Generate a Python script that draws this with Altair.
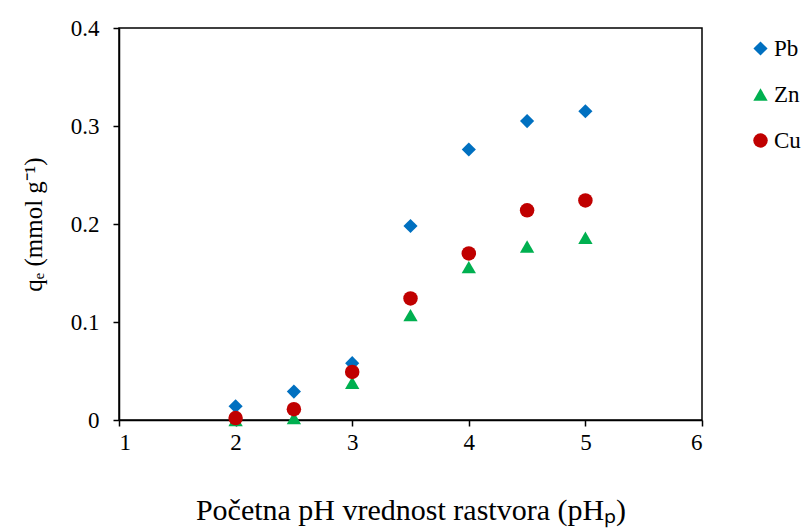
import altair as alt
import pandas as pd

ph = [2, 2.5, 3, 3.5, 4, 4.5, 5]
pb = [0.014, 0.029, 0.058, 0.198, 0.276, 0.305, 0.315]
zn = [0.0, 0.002, 0.038, 0.107, 0.156, 0.177, 0.186]
cu = [0.002, 0.011, 0.049, 0.124, 0.170, 0.214, 0.224]
series = ["Pb", "Zn", "Cu"]
colors = ["#0070C0", "#00B050", "#C00000"]
shapes = ["diamond", "triangle-up", "circle"]
sizes = [200, 210, 190]

rows = []
for name, vals in zip(series, [pb, zn, cu]):
    for x, y in zip(ph, vals):
        rows.append({"pH": x, "qe": y, "Metal": name})
df = pd.DataFrame(rows)

FONT = "Liberation Serif"

chart = alt.Chart(df).mark_point(filled=True, opacity=1, strokeWidth=0).encode(
    x=alt.X("pH:Q", scale=alt.Scale(domain=[1, 6], nice=False),
            axis=alt.Axis(values=[1, 2, 3, 4, 5, 6], format="d",
                          title="Početna pH vrednost rastvora (pHₚ)",
                          titlePadding=41, titleFontSize=30)),
    y=alt.Y("qe:Q", scale=alt.Scale(domain=[0, 0.4], nice=False),
            axis=alt.Axis(values=[0, 0.1, 0.2, 0.3, 0.4],
                          labelExpr="datum.value == 0 ? '0' : format(datum.value, '.1f')",
                          title="qₑ (mmol g⁻¹)", titlePadding=24, titleFontSize=25)),
    color=alt.Color("Metal:N", scale=alt.Scale(domain=series, range=colors),
                    legend=alt.Legend(title=None, orient="none", legendX=630, legendY=9,
                                      labelFontSize=23, labelFont=FONT, rowPadding=22,
                                      labelOffset=2, symbolStrokeWidth=0)),
    shape=alt.Shape("Metal:N", scale=alt.Scale(domain=series, range=shapes)),
    size=alt.Size("Metal:N", scale=alt.Scale(domain=series, range=sizes)),
).properties(
    width=583, height=392,
    autosize=alt.AutoSizeParams(type="none"),
    padding={"left": 119, "top": 28, "right": 104, "bottom": 112},
).configure_view(
    stroke="black", strokeWidth=1.5
).configure_axis(
    grid=False, domainColor="black", domainWidth=1.5, tickColor="black", tickWidth=1.5,
    tickSize=6, labelFont=FONT, labelFontSize=23, labelColor="black",
    titleFont=FONT, titleFontWeight="normal", titleColor="black",
    labelPadding=5
).configure_axisY(
    labelPadding=14
).configure_legend(
    labelFont=FONT, labelColor="black"
)

chart.save("out.html", embed_options={"renderer": "svg", "actions": False})
